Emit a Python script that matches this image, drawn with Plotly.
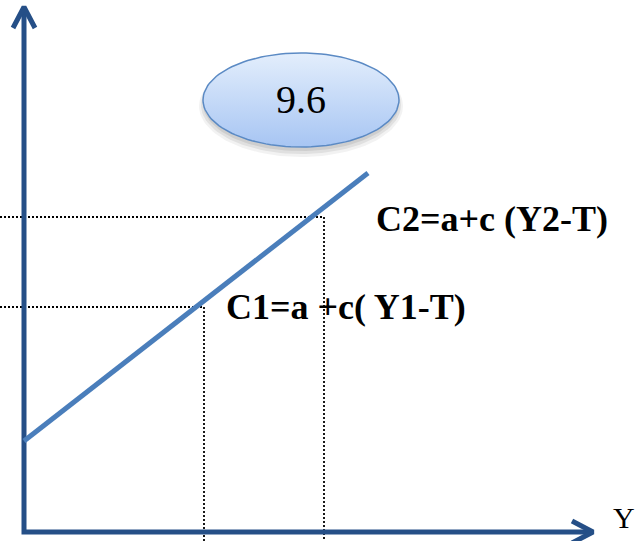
import numpy as np
import plotly.graph_objects as go

# ---- data (economic units: income Y on x, consumption C on y) ----
income = [0, 344]            # Y values of the consumption line end points
consumption = [91, 359]      # C values of the consumption line end points
y_levels = [180, 300]        # Y1, Y2
c_levels = [225, 315]        # C1, C2
labels = ["C1=a +c( Y1-T)", "C2=a+c (Y2-T)"]
axis_label = "Y"
badge_text = "9.6"

# ---- layout constants ----
X_MIN, X_MAX = -24, 614
Y_MIN, Y_MAX = -9, 532
AX_X_END = 569
AX_Y_END = 525
AXIS_COLOR = "#254f87"
LINE_COLOR = "#4a7ebb"
SERIF = "Liberation Serif"

fig = go.Figure()

# dotted guide lines
for yl, cl in zip(y_levels, c_levels):
    fig.add_trace(go.Scatter(x=[X_MIN, yl, yl], y=[cl, cl, Y_MIN], mode="lines",
                             line=dict(color="black", width=1.8, dash="2px,2px"),
                             hoverinfo="skip"))

# axes
fig.add_trace(go.Scatter(x=[0, 0, AX_X_END], y=[AX_Y_END, 0, 0], mode="lines",
                         line=dict(color=AXIS_COLOR, width=5), hoverinfo="skip"))
# arrow heads (chevrons)
fig.add_trace(go.Scatter(x=[-11, 0, 11], y=[AX_Y_END - 21, AX_Y_END, AX_Y_END - 21], mode="lines",
                         line=dict(color=AXIS_COLOR, width=5), hoverinfo="skip"))
fig.add_trace(go.Scatter(x=[AX_X_END - 21, AX_X_END, AX_X_END - 21], y=[11, 0, -11], mode="lines",
                         line=dict(color=AXIS_COLOR, width=5), hoverinfo="skip"))

# consumption line
fig.add_trace(go.Scatter(x=income, y=consumption, mode="lines",
                         line=dict(color=LINE_COLOR, width=5), hoverinfo="skip"))

# badge ellipse with shadow
cx, cy, rx, ry = 277, 432, 98, 47
t = np.linspace(0, 2 * np.pi, 121)
for off, grow, alpha in [(6, 4, 0.05), (5, 2, 0.07), (4, 0, 0.08)]:
    fig.add_trace(go.Scatter(x=cx + (rx + grow) * np.cos(t), y=cy - off + (ry + grow) * np.sin(t),
                             mode="lines", fill="toself", line=dict(width=0),
                             fillcolor=f"rgba(0,0,0,{alpha})", hoverinfo="skip"))
fig.add_trace(go.Scatter(x=cx + rx * np.cos(t), y=cy + ry * np.sin(t), mode="lines",
                         fill="toself", line=dict(color="#5b8ac4", width=1.5),
                         fillgradient=dict(type="vertical",
                                           colorscale=[[0, "#a7c5f3"], [1, "#e3eefc"]]),
                         hoverinfo="skip"))

fig.add_annotation(x=cx, y=cy + 1, text=badge_text, showarrow=False,
                   font=dict(family=SERIF, size=40, color="black"),
                   xanchor="center", yanchor="middle")

# equation labels
label_x = [200, 350]
label_y = [225, 313]
for txt, lx, ly in zip(labels, label_x, label_y):
    fig.add_annotation(x=lx, y=ly, text=f"<b>{txt}</b>", showarrow=False,
                       font=dict(family=SERIF, size=36, color="black"),
                       xanchor="left", yanchor="middle")

fig.add_annotation(x=600, y=15, text=axis_label, showarrow=False,
                   font=dict(family=SERIF, size=30, color="black"),
                   xanchor="center", yanchor="middle")

fig.update_layout(
    width=638, height=541, margin=dict(l=0, r=0, t=0, b=0),
    paper_bgcolor="white", plot_bgcolor="white", showlegend=False,
    xaxis=dict(range=[X_MIN, X_MAX], visible=False, fixedrange=True),
    yaxis=dict(range=[Y_MIN, Y_MAX], visible=False, fixedrange=True),
)

fig.write_html("out.html", config={"displayModeBar": False},
               post_script="document.body.style.margin='0';document.body.style.overflow='hidden';")
